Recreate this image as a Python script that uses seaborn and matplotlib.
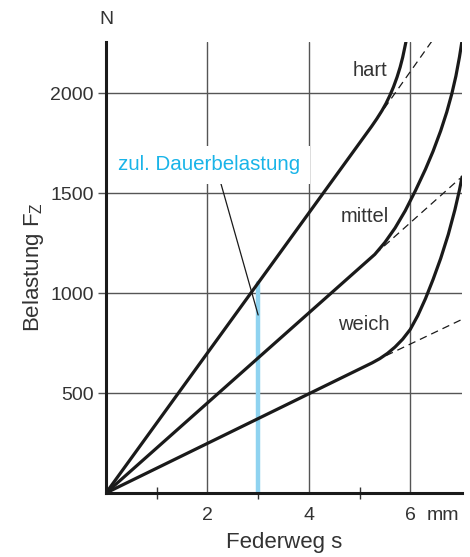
import matplotlib
matplotlib.use("Agg")
import matplotlib.pyplot as plt
import seaborn as sns
import pandas as pd

# Federkennlinien (s in mm, F in N)
hart_s = [0, 5.24, 5.34, 5.44, 5.52, 5.6, 5.67, 5.74, 5.8, 5.85, 5.89, 5.92]
hart_f = [0, 1834, 1871, 1911, 1947, 1989, 2031, 2080, 2129, 2178, 2226, 2262]
mittel_s = [0, 5.3, 5.5, 5.7, 5.9, 6.1, 6.3, 6.45, 6.6, 6.72, 6.82, 6.9, 6.97, 7.02]
mittel_f = [0, 1193, 1253, 1325, 1411, 1511, 1619, 1709, 1811, 1905, 1997, 2085, 2180, 2260]
weich_s = [0, 5.25, 5.4, 5.55, 5.7, 5.85, 6.0, 6.15, 6.3, 6.45, 6.6, 6.75, 6.88, 6.97, 7.02]
weich_f = [0, 651, 672, 698, 730, 769, 818, 888, 972, 1068, 1173, 1293, 1416, 1515, 1580]

# lineare Verlaengerung (gestrichelt)
hart_lin_s = [5.2, 6.42]
hart_lin_f = [1820, 2257]
mittel_lin_s = [5.3, 6.98]
mittel_lin_f = [1193, 1573]
weich_lin_s = [5.3, 7.02]
weich_lin_f = [660, 868]

dauer_s = [3, 3]
dauer_f = [0, 1050]

y_ticks = [500, 1000, 1500, 2000]
x_labeled = [2, 4, 6]
x_minor = [1, 3, 5]

sns.set_style("white")
plt.rcParams['font.family'] = ['Liberation Sans', 'DejaVu Sans']
txt = "#333333"

fig = plt.figure(figsize=(4.7, 5.57), dpi=100)
ax = fig.add_axes([106 / 470, 1 - 493 / 557, 356 / 470, 451 / 557])

grid_kw = dict(color="#555555", lw=1.0, zorder=1)
for x in x_labeled:
    ax.axvline(x, **grid_kw)
for y in y_ticks:
    ax.axhline(y, **grid_kw)

sns.lineplot(x=dauer_s, y=dauer_f, estimator=None, sort=False,
             color="#8fd3f0", linewidth=3.2, ax=ax, zorder=2)

for s, f in [(hart_s, hart_f), (mittel_s, mittel_f), (weich_s, weich_f)]:
    df = pd.DataFrame({"s": s, "F": f})
    sns.lineplot(data=df, x="s", y="F", sort=False, estimator=None,
                 color="#1a1a1a", linewidth=2.3, ax=ax, zorder=4)
for s, f in [(hart_lin_s, hart_lin_f), (mittel_lin_s, mittel_lin_f), (weich_lin_s, weich_lin_f)]:
    sns.lineplot(x=s, y=f, estimator=None, color="#1a1a1a", linewidth=0.9,
                 ls=(0, (6, 4)), ax=ax, zorder=3)

ax.set_xlim(0, 7.02)
ax.set_ylim(0, 2255)

for side in ["top", "right"]:
    ax.spines[side].set_visible(False)
for side in ["left", "bottom"]:
    ax.spines[side].set_linewidth(2.2)
    ax.spines[side].set_color("#1a1a1a")
    ax.spines[side].set_zorder(7)

ax.set_yticks(y_ticks)
ax.set_yticklabels([str(v) for v in y_ticks])
ax.set_xticks(x_labeled)
ax.set_xticklabels([str(v) for v in x_labeled])
ax.set_xticks(x_minor, minor=True)
ax.tick_params(axis="y", which="major", length=6, width=1, color="#555555",
               labelsize=14, labelcolor=txt, pad=3, left=True)
ax.tick_params(axis="x", which="major", length=0, labelsize=14, labelcolor=txt, pad=10)
ax.tick_params(axis="x", which="minor", length=9, width=1, direction="inout",
               color="#333333", bottom=True)

ax.set_xlabel("Federweg s", fontsize=16, color=txt, labelpad=6)
ax.set_ylabel("Belastung F$_\\mathregular{Z}$", fontsize=16, color=txt, labelpad=3)

fig.text(106 / 470, 1 - 19 / 557, "N", fontsize=14, color=txt, ha="center", va="center")
ax.annotate("mm", xy=(6.65, 0), xytext=(0, -10), textcoords="offset points",
            fontsize=14, color=txt, ha="center", va="top")

ax.text(5.55, 2115, "hart", fontsize=14.5, color=txt, ha="right", va="center", zorder=6)
ax.text(5.1, 1380, "mittel", fontsize=14.5, color=txt, ha="center", va="center", zorder=6)
ax.text(5.08, 840, "weich", fontsize=14.5, color=txt, ha="center", va="center", zorder=6)

ax.annotate("zul. Dauerbelastung", xy=(3, 890), xytext=(0.24, 1640),
            fontsize=14.8, color="#19b4e8", ha="left", va="center", zorder=6,
            bbox=dict(boxstyle="square,pad=0.45", fc="white", ec="none"),
            arrowprops=dict(arrowstyle="-", color="#1a1a1a", lw=0.9,
                            shrinkA=0, shrinkB=0, relpos=(0.55, 0.0)))

fig.savefig("out.png", dpi=100)
